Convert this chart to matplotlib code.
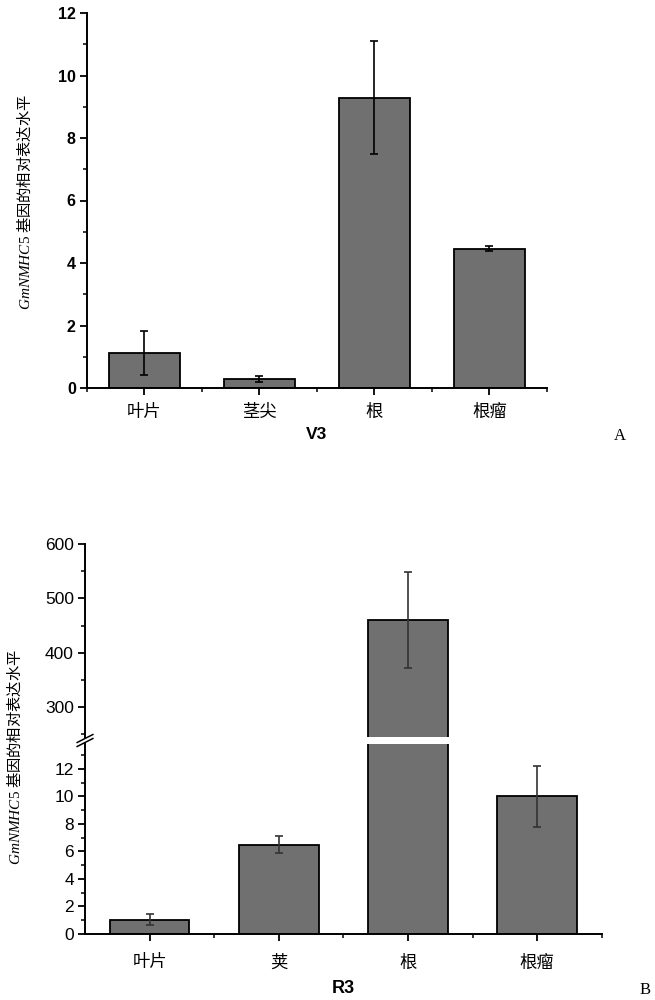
import matplotlib
matplotlib.use('Agg')
import matplotlib.pyplot as plt
from matplotlib.ticker import MultipleLocator, FixedLocator
import numpy as np

plt.rcParams['font.family'] = ['Noto Sans CJK SC', 'DejaVu Sans']
plt.rcParams['mathtext.fontset'] = 'custom'
plt.rcParams['mathtext.it'] = 'Liberation Serif:italic'
plt.rcParams['mathtext.rm'] = 'Liberation Serif'

# 数据 A (V3)
cats_a = ['叶片', '茎尖', '根', '根瘤']
vals_a = [1.12, 0.29, 9.29, 4.45]
err_a = [0.70, 0.10, 1.80, 0.08]

# 数据 B (R3)
cats_b = ['叶片', '荚', '根', '根瘤']
vals_b = [1.05, 6.5, 460, 10.0]
err_b = [0.42, 0.65, 89, 2.2]

ylabel = r'$\mathit{GmNMHC5}$ 基因的相对表达水平'
bar_col = '#707070'
sans = ['Liberation Sans', 'DejaVu Sans']

fig = plt.figure(figsize=(6.55, 10), dpi=100)

def style(ax, bottom=True):
    for s in ['top', 'right']:
        ax.spines[s].set_visible(False)
    ax.spines['left'].set_linewidth(1.4)
    ax.spines['bottom'].set_linewidth(1.4)
    if not bottom:
        ax.spines['bottom'].set_visible(False)
        ax.tick_params(axis='x', which='both', bottom=False, labelbottom=False)
    ax.tick_params(axis='both', which='major', direction='out', length=5, width=1.3, pad=3)
    ax.tick_params(axis='x', which='major', pad=6)
    ax.tick_params(axis='both', which='minor', direction='out', length=3, width=1.1)

# ---------- 图 A ----------
ax = fig.add_axes([0.1328, 0.612, 0.7023, 0.375])
x = np.arange(1, len(cats_a) + 1)
ax.bar(x, vals_a, width=0.62, color=bar_col, edgecolor='black', linewidth=1.3, zorder=2)
ax.errorbar(x, vals_a, yerr=err_a, fmt='none', ecolor='black', elinewidth=1.2,
            capsize=3, capthick=1.2, zorder=3)
ax.set_xlim(0.5, 4.5)
ax.set_ylim(0, 12)
ax.yaxis.set_major_locator(MultipleLocator(2))
ax.yaxis.set_minor_locator(MultipleLocator(1))
ax.set_xticks(x)
ax.set_xticklabels(cats_a, fontsize=12.5)
ax.xaxis.set_minor_locator(FixedLocator([0.5, 1.5, 2.5, 3.5, 4.5]))
style(ax)
for lb in ax.get_yticklabels():
    lb.set_fontfamily(sans)
    lb.set_fontsize(11.5)
    lb.set_fontweight('bold')
ax.set_xlabel('V3', fontsize=12.5, fontweight='bold', family=sans, labelpad=4)
fig.text(25 / 655, 0.798, ylabel, rotation=90, ha='center', va='center', fontsize=11)
fig.text(620 / 655, 1 - 436 / 1000, 'A', fontsize=12, family=['Liberation Serif'],
         ha='center', va='center')

# ---------- 图 B ----------
xb = np.arange(1, len(cats_b) + 1)
ax_hi = fig.add_axes([0.1298, 0.263, 0.789, 0.193])
ax_lo = fig.add_axes([0.1298, 0.066, 0.789, 0.190])
for a in (ax_hi, ax_lo):
    a.bar(xb, vals_b, width=0.615, color=bar_col, edgecolor='black', linewidth=1.3, zorder=2)
    a.errorbar(xb, vals_b, yerr=err_b, fmt='none', ecolor='#333333', elinewidth=1.2,
               capsize=3, capthick=1.2, zorder=3)
    a.set_xlim(0.5, 4.5)

ax_hi.set_ylim(245, 600)
ax_hi.yaxis.set_major_locator(MultipleLocator(100))
ax_hi.yaxis.set_minor_locator(MultipleLocator(50))
style(ax_hi, bottom=False)

ax_lo.set_ylim(0, 13.8)
ax_lo.yaxis.set_major_locator(MultipleLocator(2))
ax_lo.yaxis.set_minor_locator(MultipleLocator(1))
ax_lo.set_xticks(xb)
ax_lo.set_xticklabels(cats_b, fontsize=12.5)
ax_lo.xaxis.set_minor_locator(FixedLocator([1.5, 2.5, 3.5, 4.5]))
style(ax_lo)
ax_lo.tick_params(axis='x', which='major', pad=9)
for a in (ax_hi, ax_lo):
    for lb in a.get_yticklabels():
        lb.set_fontfamily(sans)
        lb.set_fontsize(12.5)
ax_lo.set_xlabel('R3', fontsize=13, fontweight='bold', family=sans, labelpad=6)

# 断轴标记
d = 0.012
kw = dict(transform=fig.transFigure, color='black', lw=1.1, clip_on=False)
x0 = 0.1298
for yb in (0.2575, 0.2615):
    fig.add_artist(plt.Line2D([x0 - d, x0 + d], [yb - 0.004, yb + 0.004], **kw))

fig.text(15 / 655, 1 - 757 / 1000, ylabel, rotation=90, ha='center', va='center', fontsize=11)
fig.text(645 / 655, 1 - 990 / 1000, 'B', fontsize=12, family=['Liberation Serif'],
         ha='center', va='center')

fig.savefig('out.png', dpi=100)
